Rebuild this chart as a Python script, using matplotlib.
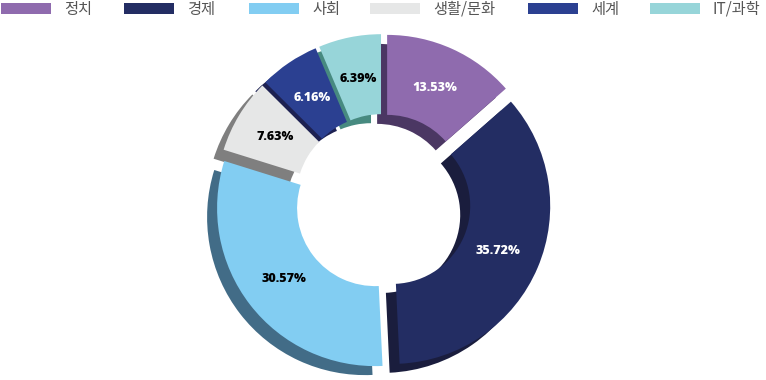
import matplotlib
matplotlib.use('Agg')
from matplotlib import pyplot as plt
from matplotlib.patches import Rectangle

plt.rcParams['font.family'] = ['Noto Sans CJK KR', 'DejaVu Sans']

# data
categories = ['정치', '경제', '사회', '생활/문화', '세계', 'IT/과학']
shares = [13.53, 35.72, 30.57, 7.63, 6.16, 6.39]

face_colors = ['#8f6bae', '#232d63', '#82cdf2', '#e6e7e7', '#2b4091', '#97d5d9']
shade_colors = ['#4b3763', '#1a1d3d', '#426c87', '#7f7f7f', '#1d2152', '#478a80']
label_colors = ['white', 'white', 'black', 'black', 'white', 'black']

# layout in pixels (axes = whole figure, 1 unit = 1 px, y up)
W, H = 766, 380
cx, cy = 383, H - 202
R, r = 158, 78
shade_dx, shade_dy = -10, -9
explode = [10] * len(shares)   # pie offsets in data units (px here)

fig = plt.figure(figsize=(W / 100, H / 100), dpi=100)
ax = fig.add_axes([0, 0, 1, 1])

# shadow ring first
ax.pie(shares, colors=shade_colors, startangle=90, counterclock=False,
       explode=explode, radius=R, center=(cx + shade_dx, cy + shade_dy),
       wedgeprops=dict(width=R - r, linewidth=0))

# front ring
wedges, texts, autotexts = ax.pie(
    shares, colors=face_colors, startangle=90, counterclock=False,
    explode=explode, radius=R, center=(cx, cy),
    autopct='%.2f%%', pctdistance=0.73,
    wedgeprops=dict(width=R - r, linewidth=0))

for t, c in zip(autotexts, label_colors):
    t.set_color(c)
    t.set_fontsize(9)
    t.set_fontweight('heavy')
    t.set_family(['Open Sans', 'DejaVu Sans'])

# legend along the top
legend_x = [1, 124, 249, 370, 528, 650]
for x0, name, col in zip(legend_x, categories, face_colors):
    ax.add_patch(Rectangle((x0, H - 14), 50, 11, facecolor=col, edgecolor='none'))
    ax.text(x0 + 63, H - 9.5, name, fontsize=11, fontweight='medium',
            color='#555555', va='center', ha='left')

ax.set_xlim(0, W)
ax.set_ylim(0, H)
ax.set_aspect('equal')
ax.axis('off')

fig.savefig('out.png', dpi=100)
